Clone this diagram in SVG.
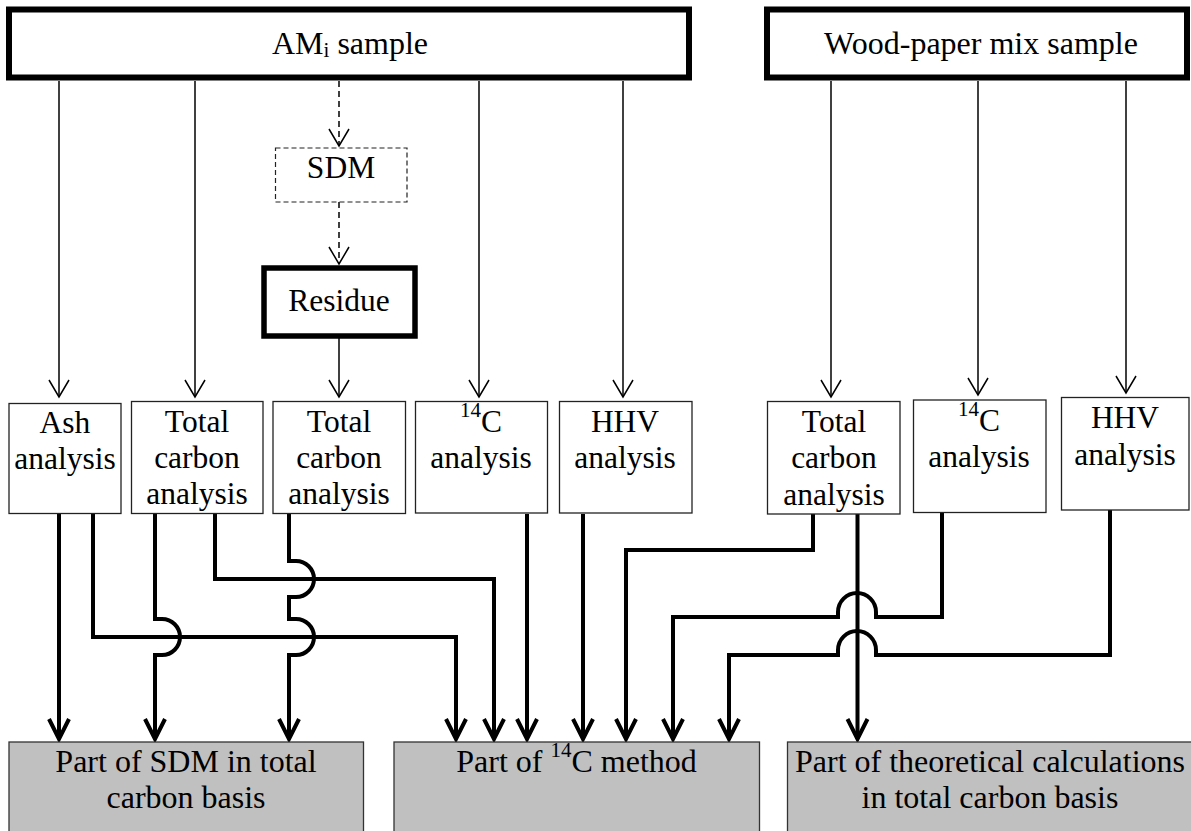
<svg xmlns="http://www.w3.org/2000/svg" width="1191" height="831" viewBox="0 0 1191 831">
<defs>
<style>
.t{font-family:"Liberation Serif","Times New Roman",serif;font-size:31.5px;text-anchor:middle;fill:#000}
.tb{font-family:"Liberation Serif","Times New Roman",serif;font-size:32px;text-anchor:middle;fill:#000}
.box{fill:#fff;stroke:#222;stroke-width:1.3}
.heavy{fill:#fff;stroke:#000;stroke-width:6}
.res{fill:#c0c0c0;stroke:#333;stroke-width:1.3}
.thin{fill:none;stroke:#000;stroke-width:1.5;marker-end:url(#ah)}
.dash{fill:none;stroke:#000;stroke-width:1.5;stroke-dasharray:6,4;marker-end:url(#ah)}
.thick{fill:none;stroke:#000;stroke-width:4;stroke-linejoin:miter;marker-end:url(#ahb)}
</style>
<marker id="ah" markerUnits="userSpaceOnUse" markerWidth="40" markerHeight="40" refX="0" refY="0" orient="auto" overflow="visible">
<path d="M-17,-10 L0,0 L-17,10" fill="none" stroke="#000" stroke-width="1.5"/>
</marker>
<marker id="ahb" markerUnits="userSpaceOnUse" markerWidth="40" markerHeight="40" refX="0" refY="0" orient="auto" overflow="visible">
<path d="M-20,-10 L0,0 L-20,10" fill="none" stroke="#000" stroke-width="4"/>
</marker>
</defs>
<rect width="1191" height="831" fill="#fff"/>
<g id="connectors">
<path class="thin" d="M59,81 V397"/>
<path class="thin" d="M195,81 V397"/>
<path class="dash" d="M339,81 V146"/>
<path class="dash" d="M339,202 V264"/>
<path class="thin" d="M339,338 V397"/>
<path class="thin" d="M479,81 V397"/>
<path class="thin" d="M623,81 V397"/>
<path class="thin" d="M831,81 V397"/>
<path class="thin" d="M978,81 V395"/>
<path class="thin" d="M1126,81 V393"/>
<path class="thick" d="M59,514 V739"/>
<path class="thick" d="M93,514 V637 H456 V739"/>
<path class="thick" d="M155,514 V619 H162 A18,18 0 0 1 162,655 H155 V739"/>
<path class="thick" d="M215,514 V579 H494 V739"/>
<path class="thick" d="M289,514 V561 H296 A18,18 0 0 1 296,597 H289 V619 H296 A18,18 0 0 1 296,655 H289 V739"/>
<path class="thick" d="M527,514 V739"/>
<path class="thick" d="M583,514 V739"/>
<path class="thick" d="M813,514 V550 H626 V739"/>
<path class="thick" d="M857.5,514 V739"/>
<path class="thick" d="M942,512 V617 H876 V612 A19,19 0 0 0 838,612 V617 H673 V739"/>
<path class="thick" d="M1110,510 V655 H876 V650 A19,19 0 0 0 838,650 V655 H729 V739"/>
</g>
<g id="ami-sample">
<rect class="heavy" x="9" y="9.5" width="680" height="68"/>
<text class="tb" x="350" y="54">AM<tspan font-size="21" dy="3">i</tspan><tspan dy="-3"> sample</tspan></text>
</g>
<g id="wood-paper-sample">
<rect class="heavy" x="767" y="9.5" width="420" height="68"/>
<text class="tb" x="981" y="54">Wood-paper mix sample</text>
</g>
<g id="sdm">
<rect x="275.5" y="148" width="131.5" height="54" fill="#fff" stroke="#222" stroke-width="1.2" stroke-dasharray="5,3"/>
<text class="t" x="341" y="178">SDM</text>
</g>
<g id="residue">
<rect x="264" y="268" width="151" height="68" fill="#fff" stroke="#000" stroke-width="5.5"/>
<text class="t" x="339" y="311">Residue</text>
</g>
<g id="ash-analysis">
<rect class="box" x="9" y="403.5" width="112" height="110"/>
<text class="t" x="65" y="433">Ash</text>
<text class="t" x="65" y="469">analysis</text>
</g>
<g id="tc-analysis-1">
<rect class="box" x="131.5" y="401.5" width="131.5" height="112"/>
<text class="t" x="197" y="432">Total</text>
<text class="t" x="197" y="468">carbon</text>
<text class="t" x="197" y="504">analysis</text>
</g>
<g id="tc-analysis-2">
<rect class="box" x="273" y="401.5" width="132.5" height="112"/>
<text class="t" x="339" y="432">Total</text>
<text class="t" x="339" y="468">carbon</text>
<text class="t" x="339" y="504">analysis</text>
</g>
<g id="c14-analysis-1">
<rect class="box" x="415.5" y="401.5" width="132" height="111.5"/>
<text class="t" x="481" y="432"><tspan font-size="21" dy="-15">14</tspan><tspan dy="15">C</tspan></text>
<text class="t" x="481" y="468">analysis</text>
</g>
<g id="hhv-analysis-1">
<rect class="box" x="559.5" y="401.5" width="132.5" height="111.5"/>
<text class="t" x="625" y="432">HHV</text>
<text class="t" x="625" y="468">analysis</text>
</g>
<g id="tc-analysis-3">
<rect class="box" x="767.5" y="401.5" width="132.5" height="112.5"/>
<text class="t" x="834" y="432">Total</text>
<text class="t" x="834" y="468">carbon</text>
<text class="t" x="834" y="505">analysis</text>
</g>
<g id="c14-analysis-2">
<rect class="box" x="913.5" y="400" width="132.5" height="112.5"/>
<text class="t" x="979" y="431"><tspan font-size="21" dy="-15">14</tspan><tspan dy="15">C</tspan></text>
<text class="t" x="979" y="467">analysis</text>
</g>
<g id="hhv-analysis-2">
<rect class="box" x="1061.5" y="397.5" width="127.5" height="112.5"/>
<text class="t" x="1125" y="428">HHV</text>
<text class="t" x="1125" y="465">analysis</text>
</g>
<g id="sdm-part">
<rect class="res" x="9" y="742" width="354.5" height="95"/>
<text class="tb" x="186" y="772">Part of SDM in total</text>
<text class="tb" x="186" y="808">carbon basis</text>
</g>
<g id="c14-part">
<rect class="res" x="394" y="742" width="365.5" height="95"/>
<text class="tb" x="576.5" y="772">Part of <tspan font-size="21" dy="-15">14</tspan><tspan dy="15">C method</tspan></text>
</g>
<g id="theoretical-part">
<rect class="res" x="787.5" y="742" width="410" height="95"/>
<text class="tb" x="990" y="772">Part of theoretical calculations</text>
<text class="tb" x="990" y="808">in total carbon basis</text>
</g>
</svg>
